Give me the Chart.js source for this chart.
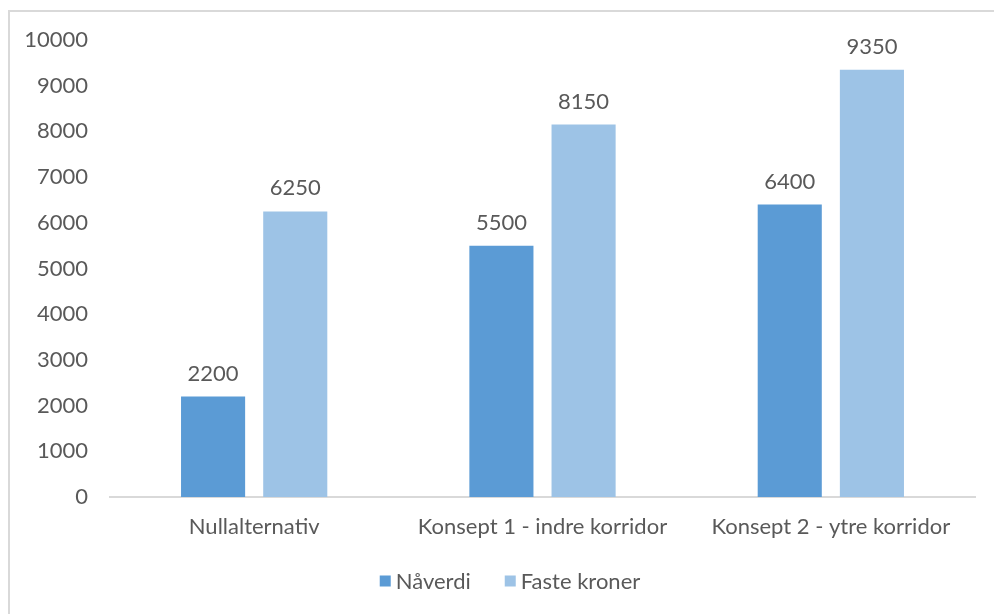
<!DOCTYPE html>
<html>
<head>
<meta charset="utf-8">
<script src="https://cdn.jsdelivr.net/npm/chart.js@4/dist/chart.umd.min.js"></script>
<style>
  html, body { margin: 0; padding: 0; background: #fff; }
  #wrap { position: relative; width: 994px; height: 614px; overflow: hidden; }
  #frame { position: absolute; left: 8px; top: 10px; width: 1200px; height: 900px;
           border-left: 2px solid #d9d9d9; border-top: 2px solid #d9d9d9; }
  canvas { position: absolute; left: 0; top: 0; }
</style>
</head>
<body>
<div id="wrap">
  <div id="frame"></div>
  <canvas id="c" width="994" height="614"></canvas>
</div>
<script>
const categories = ["Nullalternativ", "Konsept 1 - indre korridor", "Konsept 2 - ytre korridor"];
const seriesNames = ["Nåverdi", "Faste kroner"];
const naverdi = [2200, 5500, 6400];
const fasteKroner = [6250, 8150, 9350];
const yTicks = [0, 1000, 2000, 3000, 4000, 5000, 6000, 7000, 8000, 9000, 10000];

const FONT = "Lato";
const TXT = "#595959";
const FS = 22;

const dataLabels = {
  id: "dataLabels",
  afterDatasetsDraw(chart) {
    const ctx = chart.ctx;
    ctx.save();
    ctx.font = FS + "px " + FONT;
    ctx.fillStyle = TXT;
    ctx.textAlign = "center";
    ctx.textBaseline = "middle";
    chart.data.datasets.forEach((ds, i) => {
      chart.getDatasetMeta(i).data.forEach((bar, j) => {
        ctx.fillText(String(ds.data[j]), bar.x, bar.y - 23);
      });
    });
    ctx.restore();
  }
};

// Legend drawn from the datasets (labels + colours), laid out like the reference
const bottomLegend = {
  id: "bottomLegend",
  afterDraw(chart) {
    const ctx = chart.ctx;
    ctx.save();
    ctx.font = FS + "px " + FONT;
    ctx.textBaseline = "middle";
    ctx.textAlign = "left";
    const box = 11, gapText = 5, gapItem = 34;
    const items = chart.data.datasets.map(ds => ({ text: ds.label, color: ds.backgroundColor, w: ctx.measureText(ds.label).width }));
    const total = items.reduce((s, it) => s + box + gapText + it.w, 0) + gapItem * (items.length - 1);
    let x = 510 - total / 2;
    const y = 581;
    items.forEach(it => {
      ctx.fillStyle = it.color;
      ctx.fillRect(x, y - box / 2, box, box);
      x += box + gapText;
      ctx.fillStyle = TXT;
      ctx.fillText(it.text, x, y + 1);
      x += it.w + gapItem;
    });
    ctx.restore();
  }
};

new Chart(document.getElementById("c"), {
  type: "bar",
  data: {
    labels: categories,
    datasets: [
      { label: seriesNames[0], data: naverdi, backgroundColor: "#5B9BD5", categoryPercentage: 0.57, barPercentage: 0.78 },
      { label: seriesNames[1], data: fasteKroner, backgroundColor: "#9DC3E6", categoryPercentage: 0.57, barPercentage: 0.78 }
    ]
  },
  options: {
    responsive: false,
    animation: false,
    layout: { padding: { top: 40, right: 19, bottom: 57, left: 0 } },
    scales: {
      x: {
        grid: { display: false, drawTicks: false },
        border: { display: true, color: "#d9d9d9", width: 2 },
        ticks: { color: TXT, font: { family: FONT, size: FS }, padding: 17, maxRotation: 0 },
        afterFit(s) { s.height = 60; }
      },
      y: {
        min: 0, max: 10000,
        afterBuildTicks(s) { s.ticks = yTicks.map(v => ({ value: v })); },
        grid: { display: false, drawTicks: false },
        border: { display: false },
        ticks: { color: TXT, font: { family: FONT, size: FS }, padding: 22, callback: v => String(v) },
        afterFit(s) { s.width = 110; }
      }
    },
    plugins: {
      legend: { display: false },
      tooltip: { enabled: false }
    }
  },
  plugins: [dataLabels, bottomLegend]
});
</script>
</body>
</html>
